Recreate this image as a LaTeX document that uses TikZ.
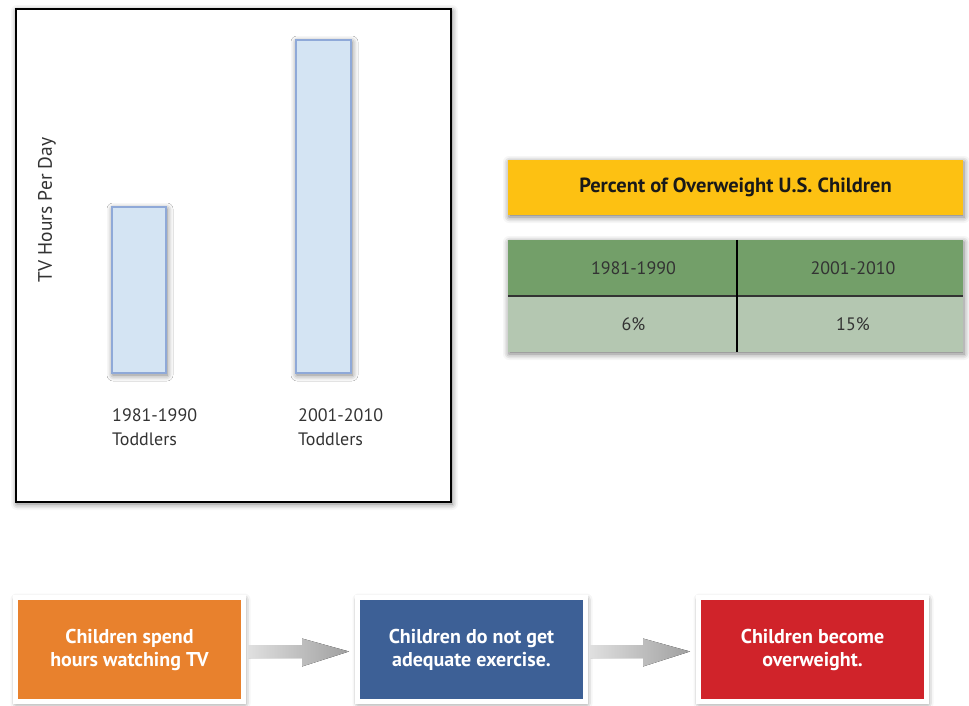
\documentclass[tikz,border=0pt]{standalone}
\usepackage{fontspec}
\setmainfont{PT Sans}
\usetikzlibrary{calc,shadows.blur}
\definecolor{barfill}{HTML}{D4E4F3}
\definecolor{barline}{HTML}{8FA9D8}
\definecolor{hdryellow}{HTML}{FDC112}
\definecolor{darkgreen}{HTML}{739F69}
\definecolor{lightgreen}{HTML}{B4C7B1}
\definecolor{boxorange}{HTML}{E8812D}
\definecolor{boxblue}{HTML}{3D6096}
\definecolor{boxred}{HTML}{D0232A}
\definecolor{txtgray}{HTML}{333333}
\tikzset{
  softshadow/.style={blur shadow={shadow xshift=1pt, shadow yshift=-2pt, shadow blur radius=6pt, shadow opacity=55}},
  frame/.style={draw=black, line width=2pt, fill=white, minimum width=435pt, minimum height=493pt, softshadow},
  bar/.style={draw=barline, line width=1.6pt, fill=barfill, minimum width=#1, softshadow},
  barlabel/.style={anchor=north west, inner sep=0pt, align=left, font=\fontsize{18}{24}\selectfont, text=txtgray},
  yheader/.style={fill=hdryellow, minimum width=455pt, minimum height=55pt, softshadow,
    font=\bfseries\fontsize{20.5}{22}\selectfont, text=black!90},
  cell/.style={minimum height=56pt, inner sep=0pt},
  celltext/.style={font=\fontsize{18}{22}\selectfont, text=txtgray, inner sep=0pt},
  flowbox/.style={draw=white, line width=5pt, minimum width=228pt, minimum height=104pt, softshadow,
    text=white, align=center, font=\bfseries\fontsize{20}{23}\selectfont},
  fatarrow/.style={left color=gray!25, right color=gray!75, draw=none}
}
\begin{document}
\begin{tikzpicture}[x=1pt, y=-1pt]
\useasboundingbox (0,0) rectangle (969,706);
% left chart
\node[frame] (chart) at (233.5,255.5) {};
\node[bar=54pt, minimum height=166pt] (bar1) at (139,290) {};
\node[bar=55pt, minimum height=333pt] (bar2) at (323.5,206.5) {};
\node[rotate=90, font=\fontsize{19.5}{22}\selectfont, text=txtgray, inner sep=0pt] (ylab) at (47,210) {TV Hours Per Day};
\node[barlabel] (lab1) at (112,408) {1981-1990\\Toddlers};
\node[barlabel] (lab2) at (298,408) {2001-2010\\Toddlers};
% table
\node[yheader] (hdr) at (735.5,187.5) {Percent of Overweight U.S. Children};
\path[softshadow, fill=lightgreen] (508,240) rectangle (963,352);
\node[cell, fill=darkgreen, minimum width=229pt] (c11) at (622.5,268) {};
\node[cell, fill=darkgreen, minimum width=226pt] (c12) at (850,268) {};
\node[cell, fill=lightgreen, minimum width=229pt] (c21) at (622.5,324) {};
\node[cell, fill=lightgreen, minimum width=226pt] (c22) at (850,324) {};
\draw[black!80, line width=1.5pt] (c11.south west) -- (c12.south east);
\draw[black, line width=2pt] (c11.north east) -- (c21.south east);
\node[celltext] (t11) at ($(c11.center)+(11,0)$) {1981-1990};
\node[celltext] (t12) at ($(c12.center)+(3,0)$) {2001-2010};
\node[celltext] (t21) at ($(c21.center)+(11,0)$) {6\%};
\node[celltext] (t22) at ($(c22.center)+(3,0)$) {15\%};
% flow
\node[flowbox, fill=boxorange] (f1) at (129.5,649.5) {Children spend\\hours watching TV};
\node[flowbox, fill=boxblue] (f2) at (471.5,649.5) {Children do not get\\adequate exercise.};
\node[flowbox, fill=boxred] (f3) at (812.5,649.5) {Children become\\overweight.};
\foreach \a/\b in {f1/f2, f2/f3}{
  \coordinate (s) at ($(\a.east)+(2.5,2)$);
  \coordinate (tip) at ($(\b.west)+(-6,2)$);
  \coordinate (h) at ($(tip)+(-47,0)$);
  \fill[fatarrow] ($(s)+(0,-6.5)$) -- ($(h)+(0,-6.5)$) -- ($(h)+(0,-13)$) -- (tip)
     -- ($(h)+(0,15)$) -- ($(h)+(0,6.5)$) -- ($(s)+(0,6.5)$) -- cycle;
}
\end{tikzpicture}
\end{document}
